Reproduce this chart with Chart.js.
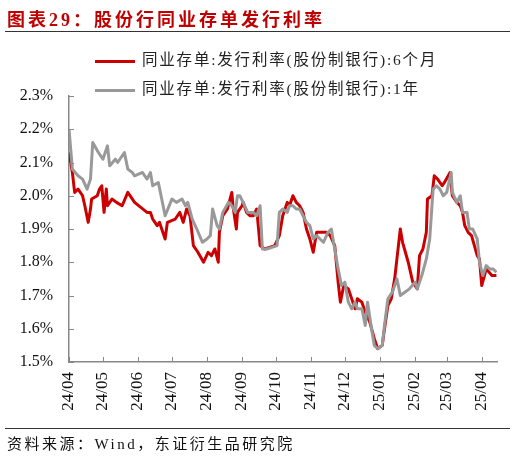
<!DOCTYPE html>
<html lang="zh">
<head>
    <meta charset="UTF-8">
    <title>股份行同业存单发行利率</title>
    <script src="https://cdn.jsdelivr.net/npm/chart.js"></script>
    <style>
        body {
            margin: 0;
            width: 516px;
            height: 457px;
            position: relative;
            background: #fff;
            font-family: "Liberation Serif", "Noto Sans CJK SC", serif;
            overflow: hidden;
        }
        #chart {
            position: absolute;
            left: 0;
            top: 0;
        }
        .title {
            position: absolute;
            left: 7px;
            top: 5px;
            font-size: 18px;
            font-weight: bold;
            letter-spacing: 3px;
            color: #c00000;
            white-space: nowrap;
        }
        .rule {
            position: absolute;
            left: 5px;
            width: 505px;
            height: 1px;
            background: #333;
        }
        .legend {
            position: absolute;
            left: 95px;
            font-size: 15.5px;
            letter-spacing: 1.8px;
            white-space: nowrap;
            color: #222;
        }
        .legend i {
            display: inline-block;
            width: 40px;
            height: 3px;
            margin-right: 7px;
            vertical-align: middle;
        }
        .source {
            position: absolute;
            left: 7px;
            top: 432px;
            font-size: 15px;
            letter-spacing: 2.5px;
            white-space: nowrap;
            color: #111;
        }
    </style>
</head>
<body>

    <canvas id="chart" width="516" height="457"></canvas>
    <div class="title">图表29：股份行同业存单发行利率</div>
    <div class="rule" style="top:31px"></div>
    <div class="legend" style="top:47px"><i style="background:#cc0000"></i>同业存单:发行利率(股份制银行):6个月</div>
    <div class="legend" style="top:76px"><i style="background:#999999"></i>同业存单:发行利率(股份制银行):1年</div>
    <div class="rule" style="top:428px"></div>
    <div class="source">资料来源：Wind，东证衍生品研究院</div>

    <script>
        // x values are days counted from 2024-04-01
        const monthDays = [0, 30, 61, 91, 122, 153, 183, 214, 244, 275, 306, 334, 365];
        const monthLabels = ['24/04', '24/05', '24/06', '24/07', '24/08', '24/09', '24/10',
                             '24/11', '24/12', '25/01', '25/02', '25/03', '25/04'];

        // 6个月
        const days6m = [0, 3, 5, 8, 10, 12, 14, 17, 19, 20, 25, 27, 29, 31, 33, 34, 38, 42, 47, 52,
                        58, 69, 72, 74, 76, 78, 80, 85, 87, 94, 98, 101, 104, 107, 110, 114, 119, 123,
                        126, 129, 132, 133, 136, 140, 144, 145, 148, 149, 153, 154, 157, 160, 163, 166,
                        169, 173, 182, 186, 189, 193, 195, 198, 201, 204, 207, 210, 213, 216, 219, 224,
                        228, 231, 235, 238, 240, 243, 247, 250, 253, 255, 259, 262, 266, 270, 273, 277,
                        279, 282, 285, 288, 290, 293, 295, 300, 304, 308, 310, 313, 316, 317, 321, 323,
                        326, 330, 332, 337, 339, 343, 346, 348, 350, 353, 356, 361, 363, 365, 369, 374, 378];
        const rate6m = [2.13, 2.07, 2.01, 2.02, 2.01, 2.00, 1.97, 1.92, 1.96, 1.99, 2.00, 2.02, 2.03, 1.95, 2.02, 1.97, 1.99, 1.98, 1.97, 2.01,
                        1.98, 1.95, 1.95, 1.93, 1.92, 1.91, 1.92, 1.87, 1.92, 1.93, 1.95, 1.92, 1.96, 1.94, 1.85, 1.83, 1.80, 1.83,
                        1.82, 1.84, 1.80, 1.89, 1.94, 1.96, 2.01, 1.97, 1.90, 1.95, 1.97, 1.98, 1.95, 1.94, 1.94, 1.96,
                        1.85, 1.84, 1.85, 1.88, 1.94, 1.98, 1.97, 2.00, 1.98, 1.97, 1.95, 1.90, 1.87, 1.83, 1.89, 1.89,
                        1.89, 1.88, 1.85, 1.74, 1.68, 1.73, 1.72, 1.69, 1.66, 1.69, 1.68, 1.65, 1.62, 1.57, 1.54, 1.55,
                        1.60, 1.67, 1.69, 1.75, 1.81, 1.90, 1.86, 1.80, 1.74, 1.72, 1.82, 1.84, 1.89, 1.99, 2.00, 2.06,
                        2.05, 2.03, 2.04, 2.07, 2.00, 1.98, 1.97, 1.95, 1.91, 1.89, 1.88, 1.82, 1.81, 1.73, 1.78, 1.76, 1.76];

        // 1年
        const days1y = [0, 3, 8, 12, 16, 19, 21, 26, 30, 34, 36, 41, 43, 49, 52, 56, 58, 65, 69, 72,
                        74, 79, 82, 85, 91, 95, 100, 103, 105, 109, 113, 118, 122, 125, 127, 131, 133, 136,
                        141, 144, 147, 149, 151, 154, 158, 163, 166, 169, 171, 175, 184, 186, 189, 193,
                        195, 198, 201, 204, 207, 210, 213, 216, 219, 222, 225, 229, 232, 235, 238, 241,
                        244, 247, 250, 253, 255, 259, 262, 264, 268, 270, 273, 277, 279, 282, 286, 290,
                        293, 297, 301, 306, 308, 312, 316, 319, 322, 325, 328, 331, 334, 338, 339, 343,
                        346, 348, 352, 354, 357, 361, 363, 366, 369, 372, 375, 378];
        const rate1y = [2.20, 2.08, 2.06, 2.05, 2.02, 2.05, 2.16, 2.13, 2.11, 2.15, 2.09, 2.11, 2.10, 2.13, 2.08, 2.07, 2.06, 2.07, 2.05, 2.07,
                        2.03, 2.04, 1.99, 1.94, 1.99, 1.98, 1.99, 1.97, 1.98, 1.93, 1.90, 1.86, 1.87, 1.88, 1.96, 1.91, 1.90, 1.95,
                        1.98, 1.97, 1.95, 2.00, 2.00, 1.98, 1.95, 1.95, 1.94, 1.97, 1.84, 1.84, 1.85, 1.95, 1.96, 1.95,
                        1.97, 1.97, 1.96, 1.96, 1.94, 1.92, 1.91, 1.87, 1.88, 1.87, 1.86, 1.89, 1.90, 1.84, 1.78, 1.73,
                        1.74, 1.68, 1.66, 1.68, 1.66, 1.66, 1.61, 1.68, 1.59, 1.55, 1.54, 1.55, 1.61, 1.69, 1.71, 1.75,
                        1.70, 1.71, 1.72, 1.74, 1.72, 1.76, 1.81, 1.87, 2.02, 2.03, 2.02, 2.00, 2.01, 2.07, 2.01, 1.98,
                        2.00, 1.95, 1.95, 1.90, 1.90, 1.87, 1.80, 1.76, 1.79, 1.78, 1.78, 1.77];

        // small inward tick marks on both axes
        const tickMarks = {
            id: 'tickMarks',
            afterDraw(chart) {
                const { ctx, chartArea, scales } = chart;
                ctx.save();
                ctx.strokeStyle = '#888';
                ctx.lineWidth = 1;
                ctx.beginPath();
                monthDays.forEach(d => {
                    const px = Math.round(scales.x.getPixelForValue(d)) + 0.5;
                    ctx.moveTo(px, chartArea.bottom);
                    ctx.lineTo(px, chartArea.bottom - 5);
                });
                scales.y.ticks.forEach(t => {
                    const py = Math.round(scales.y.getPixelForValue(t.value)) + 0.5;
                    ctx.moveTo(chartArea.left, py);
                    ctx.lineTo(chartArea.left + 5, py);
                });
                ctx.stroke();
                ctx.restore();
            }
        };

        const serif = 'Liberation Serif';

        new Chart(document.getElementById('chart').getContext('2d'), {
            type: 'line',
            data: {
                datasets: [{
                    label: '同业存单:发行利率(股份制银行):6个月',
                    data: days6m.map((d, i) => ({ x: d, y: rate6m[i] })),
                    borderColor: '#cc0000',
                    borderWidth: 3,
                    borderJoinStyle: 'round',
                    pointRadius: 0,
                    order: 2
                }, {
                    label: '同业存单:发行利率(股份制银行):1年',
                    data: days1y.map((d, i) => ({ x: d, y: rate1y[i] })),
                    borderColor: '#999999',
                    borderWidth: 3,
                    borderJoinStyle: 'round',
                    pointRadius: 0,
                    order: 1
                }]
            },
            options: {
                responsive: false,
                animation: false,
                layout: { padding: { left: 0, top: 96, right: 19, bottom: 35 } },
                plugins: {
                    legend: { display: false },
                    tooltip: { enabled: false }
                },
                scales: {
                    x: {
                        type: 'linear',
                        min: 0,
                        max: 378.5,
                        afterBuildTicks: s => { s.ticks = monthDays.map(v => ({ value: v })); },
                        afterFit: s => { s.height = 60; },
                        ticks: {
                            autoSkip: false,
                            minRotation: 90,
                            maxRotation: 90,
                            padding: 10,
                            color: '#111',
                            font: { family: serif, size: 17 },
                            callback: (v, i) => monthLabels[i]
                        },
                        grid: { display: false, drawTicks: false },
                        border: { display: true, color: '#888', width: 1.5 }
                    },
                    y: {
                        min: 1.5,
                        max: 2.3,
                        afterFit: s => { s.width = 69; },
                        ticks: {
                            stepSize: 0.1,
                            padding: 16,
                            color: '#111',
                            font: { family: serif, size: 16 },
                            callback: v => v.toFixed(1) + '%'
                        },
                        grid: { display: false, drawTicks: false },
                        border: { display: true, color: '#888', width: 1.5 }
                    }
                }
            },
            plugins: [tickMarks]
        });
    </script>

</body>
</html>
